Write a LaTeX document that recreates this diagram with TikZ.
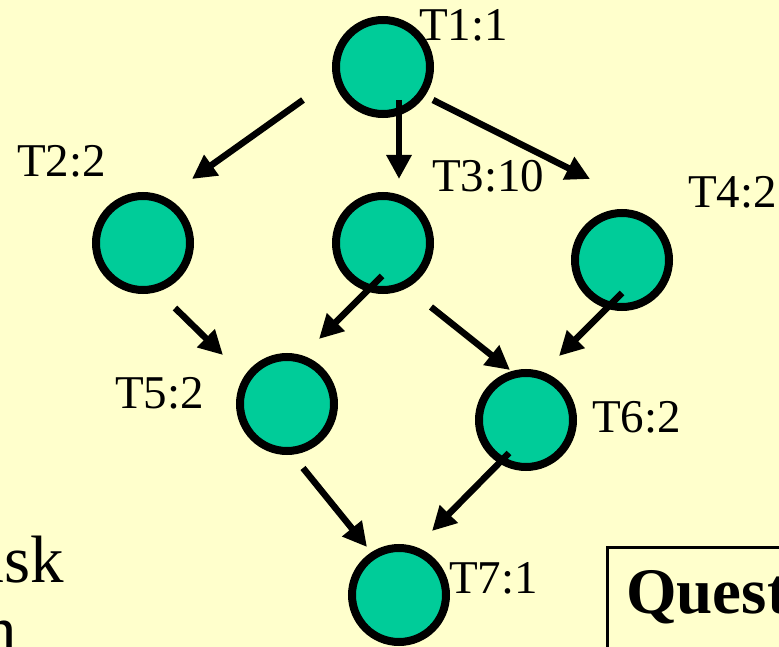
\documentclass[tikz,border=0pt]{standalone}
\usepackage{fontspec}
\setmainfont{Liberation Serif}
\usetikzlibrary{arrows.meta}
\definecolor{slidebg}{RGB}{255,255,204}
\definecolor{taskfill}{RGB}{0,204,153}

\begin{document}
\begin{tikzpicture}[x=1pt, y=-1pt, >={Triangle[length=24pt,width=24pt]},
  task/.style={circle, draw, line width=8pt, fill=taskfill, minimum size=94pt, inner sep=0pt},
  lbl/.style={anchor=base west, inner sep=0pt, font=\fontsize{47}{50}\selectfont},
  dep/.style={->, line width=6.5pt}]
  \fill[slidebg] (0,0) rectangle (779,647);
  \clip (0,0) rectangle (779,647);
  % task graph
  \node[task] (t1) at (383,67) {}; \node[task] (t2) at (143,243) {}; \node[task] (t3) at (383,243) {};
  \node[task] (t4) at (622,260) {}; \node[task] (t5) at (287,404) {}; \node[task] (t6) at (526,420) {};
  \node[task] (t7) at (399,595) {};
  \node[lbl] (l1) at (419,41) {T1:1}; \node[lbl] (l2) at (17,177) {T2:2}; \node[lbl] (l3) at (432,192) {T3:10};
  \node[lbl] (l4) at (688,208) {T4:2}; \node[lbl] (l5) at (115,408) {T5:2}; \node[lbl] (l6) at (592,432) {T6:2};
  \node[lbl] (l7) at (449,593) {T7:1};
  \draw[dep] ([shift={(-80,33)}]t1.center) -- ([shift={(49,-64)}]t2.center);
  \draw[dep] ([shift={(16,33)}]t1.center) -- ([shift={(16,-64)}]t3.center);
  \draw[dep] ([shift={(50,33)}]t1.center) -- ([shift={(-32,-81)}]t4.center);
  \draw[dep] ([shift={(32,65)}]t2.center) -- ([shift={(-64,-49)}]t5.center);
  \draw[dep] ([shift={(-1,33)}]t3.center) -- ([shift={(32,-65)}]t5.center);
  \draw[dep] ([shift={(48,64)}]t3.center) -- ([shift={(-16,-50)}]t6.center);
  \draw[dep] ([shift={(0,33)}]t4.center) -- ([shift={(33,-64)}]t6.center);
  \draw[dep] ([shift={(16,64)}]t5.center) -- ([shift={(-32,-48)}]t7.center);
  \draw[dep] ([shift={(-17,33)}]t6.center) -- ([shift={(33,-64)}]t7.center);
  % slide text cut by the frame
  \node[anchor=base east, inner sep=0pt, font=\fontsize{67}{72}\selectfont] (ask) at (64,582) {ask};
  \node[anchor=base east, inner sep=0pt, font=\fontsize{67}{72}\selectfont] (lastn) at (17,652) {n};
  \draw[line width=3pt, fill=slidebg] (607,547) rectangle (820,700);
  \node[anchor=base west, inner sep=0pt, font=\fontsize{65}{70}\selectfont\bfseries] (quest) at (626,613) {Question};
\end{tikzpicture}
\end{document}
